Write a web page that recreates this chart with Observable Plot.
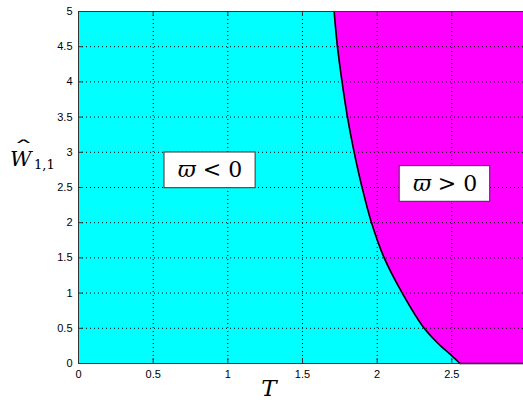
<!DOCTYPE html>
<html>
<head>
<meta charset="utf-8">
<script src="https://cdn.jsdelivr.net/npm/d3@7"></script>
<script src="https://cdn.jsdelivr.net/npm/@observablehq/plot@0.6"></script>
<style>
  html, body { margin: 0; padding: 0; background: white; }
</style>
</head>
<body>
<div id="chart"></div>
<script>
// Boundary curve (T, W)
const curveT = [1.712, 1.734, 1.765, 1.801, 1.846, 1.899, 1.962, 2.047, 2.168, 2.315, 2.425, 2.49, 2.555];
const curveW = [5, 4.5, 4, 3.5, 3, 2.5, 2, 1.5, 1, 0.5, 0.25, 0.13, 0];
// boundary continues along W = 0
const tailT = [2.555, 2.98];
const tailW = [0, 0];

const xTicks = [0, 0.5, 1, 1.5, 2, 2.5];
const yTicks = [0, 0.5, 1, 1.5, 2, 2.5, 3, 3.5, 4, 4.5, 5];
const xGrid = [0.5, 1, 1.5, 2, 2.5];
const yGrid = [0.5, 1, 1.5, 2, 2.5, 3, 3.5, 4, 4.5];

// Region annotations
const regionText = ["ϖ < 0", "ϖ > 0"];
const regionT = [0.881, 2.455];
const regionW = [2.743, 2.55];
const boxT1 = [0.576, 2.151];
const boxT2 = [1.186, 2.757];
const boxW1 = [2.49, 2.297];
const boxW2 = [2.997, 2.803];

const curve = curveT.map((t, i) => ({T: t, W: curveW[i]}));
const tail = tailT.map((t, i) => ({T: t, W: tailW[i]}));
const boxes = regionText.map((s, i) => ({
  text: s, T: regionT[i], W: regionW[i],
  x1: boxT1[i], x2: boxT2[i], y1: boxW1[i], y2: boxW2[i]
}));

const W_ = 523, H_ = 403, ML = 78, MR = 0, MT = 11, MB = 40;
const frameW = W_ - ML - MR, frameH = H_ - MT - MB, tickLen = 5;
const tickColor = "#333";

const plot = Plot.plot({
  width: W_,
  height: H_,
  marginLeft: ML,
  marginRight: MR,
  marginTop: MT,
  marginBottom: MB,
  x: {domain: [0, 2.98]},
  y: {domain: [0, 5]},
  style: {fontFamily: "'Liberation Sans', Arial, sans-serif", fontSize: "11px", color: "black", background: "white"},
  marks: [
    Plot.frame({fill: "#ff00ff"}),
    Plot.areaX(curve, {y: "W", x1: 0, x2: "T", fill: "#00ffff", curve: "catmull-rom"}),
    Plot.gridX(xGrid, {stroke: "black", strokeOpacity: 1, strokeDasharray: "1,3", strokeWidth: 1}),
    Plot.gridY(yGrid, {stroke: "black", strokeOpacity: 1, strokeDasharray: "1,3", strokeWidth: 1}),
    // inward tick marks (MATLAB style)
    Plot.ruleX(xTicks, {insetTop: frameH - tickLen, stroke: tickColor}),
    Plot.ruleX(xTicks, {insetBottom: frameH - tickLen, stroke: tickColor}),
    Plot.ruleY(yTicks, {insetRight: frameW - tickLen, stroke: tickColor}),
    Plot.line(curve, {x: "T", y: "W", stroke: "black", strokeWidth: 1.6, curve: "catmull-rom"}),
    Plot.line(tail, {x: "T", y: "W", stroke: "black", strokeWidth: 1.6}),
    Plot.rect(boxes, {x1: "x1", x2: "x2", y1: "y1", y2: "y2", fill: "white", stroke: "#333", strokeWidth: 1}),
    Plot.text(boxes, {x: "T", y: "W", text: "text", fontSize: 22, fontFamily: "'DejaVu Serif', serif", fill: "black"}),
    Plot.frame({stroke: "#333", strokeWidth: 1}),
    Plot.axisX({ticks: xTicks, tickSize: 0, tickPadding: 7, label: null, tickFormat: d => String(d)}),
    Plot.axisY({ticks: yTicks, tickSize: 0, tickPadding: 6, label: null, tickFormat: d => String(d)})
  ]
});

const svg = d3.select(plot);
// italicize varpi
svg.selectAll("text").each(function() {
  const t = d3.select(this);
  const s = t.text();
  if (s.startsWith("ϖ")) {
    t.text("");
    t.append("tspan").attr("font-style", "italic").text("ϖ");
    t.append("tspan").text(s.slice(1));
  }
});
// axis labels
svg.append("text")
  .attr("x", 269).attr("y", 396)
  .attr("text-anchor", "middle")
  .attr("font-family", "'DejaVu Serif', serif")
  .attr("font-style", "italic")
  .attr("font-size", 23)
  .attr("fill", "black")
  .text("T");
const yl = svg.append("text")
  .attr("text-anchor", "start")
  .attr("font-family", "'DejaVu Serif', serif")
  .attr("fill", "black");
yl.append("tspan").attr("x", 10).attr("y", 166)
  .attr("font-style", "italic").attr("font-size", 21).text("W");
yl.append("tspan").attr("x", 34).attr("y", 169)
  .attr("font-size", 13).text("1,1");
yl.append("tspan").attr("x", 13).attr("y", 155)
  .attr("font-size", 18)
  .attr("textLength", 21).attr("lengthAdjust", "spacingAndGlyphs")
  .text("ˆ");

document.getElementById("chart").appendChild(plot);
</script>
</body>
</html>
